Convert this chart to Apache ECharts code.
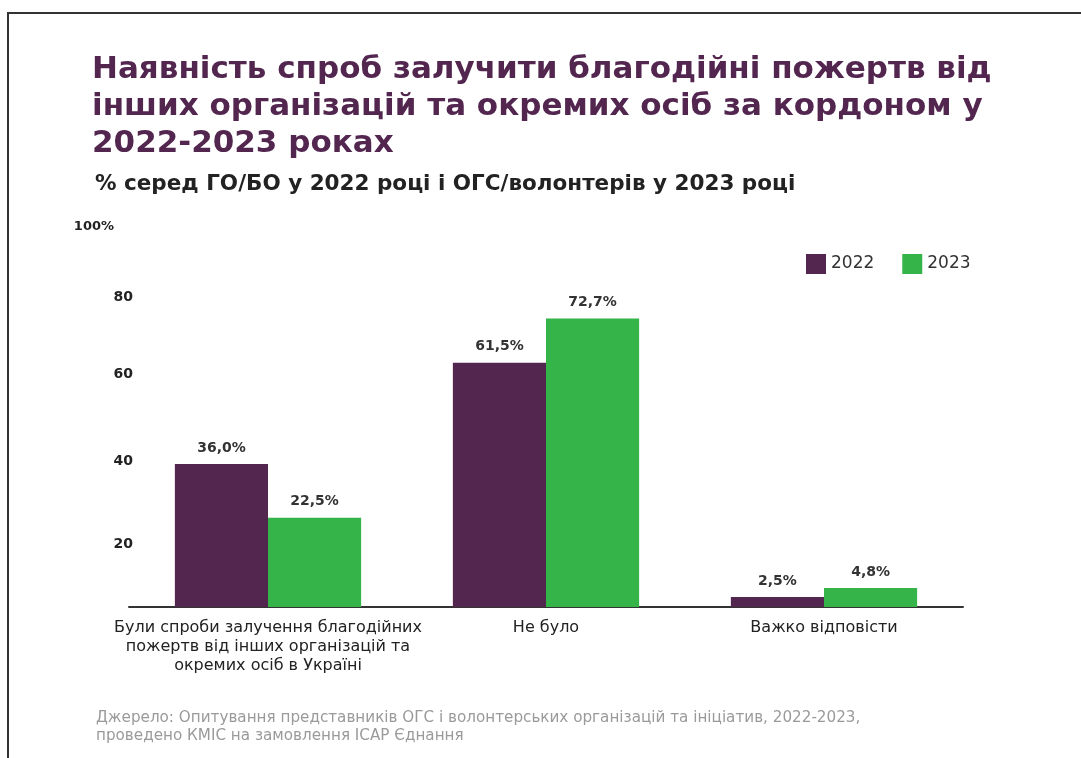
<!DOCTYPE html>
<html>
<head>
<meta charset="utf-8">
<script src="https://cdn.jsdelivr.net/npm/echarts@6/dist/echarts.min.js"></script>
<style>
  html, body { margin: 0; padding: 0; background: #fff; }
  #chart { width: 1081px; height: 758px; }
  #frame { position: absolute; left: 7px; top: 12px; right: 0; bottom: 0;
           border-top: 2px solid #333; border-left: 2px solid #333; pointer-events: none; }
</style>
</head>
<body>
<div id="chart"></div>
<div id="frame"></div>
<script>
const categories = [
  'Були спроби залучення благодійних\nпожертв від інших організацій та\nокремих осіб в Україні',
  'Не було',
  'Важко відповісти'
];
const seriesNames = ['2022', '2023'];
const values2022 = [36.0, 61.5, 2.5];
const values2023 = [22.5, 72.7, 4.8];
const yTicks = [0, 20, 40, 60, 80, 100];

const FONT = 'DejaVu Sans';
const purple = '#52264f';
const green = '#35b44a';

const chart = echarts.init(document.getElementById('chart'), null, { renderer: 'canvas' });

function fmtPct(v) { return v.toFixed(1).replace('.', ',') + '%'; }

chart.setOption({
  backgroundColor: '#fff',
  textStyle: { fontFamily: FONT },
  title: [
    {
      text: 'Наявність спроб залучити благодійні пожертв від\nінших організацій та окремих осіб за кордоном у\n2022-2023 роках',
      left: 87, top: 46,
      textStyle: { fontFamily: FONT, fontSize: 31, fontWeight: 'bold', color: purple, lineHeight: 37 }
    },
    {
      text: '% серед ГО/БО у 2022 році і ОГС/волонтерів у 2023 році',
      left: 90, top: 168,
      textStyle: { fontFamily: FONT, fontSize: 21.5, fontWeight: 'bold', color: '#222' }
    },
    {
      text: 'Джерело: Опитування представників ОГС і волонтерських організацій та ініціатив, 2022-2023,\nпроведено КМІС на замовлення ІСАР Єднання',
      left: 91, top: 704,
      textStyle: { fontFamily: FONT, fontSize: 15.2, fontWeight: 'normal', color: '#9a9a9a', lineHeight: 18 }
    }
  ],
  legend: {
    data: seriesNames,
    left: 801, top: 249,
    itemWidth: 20, itemHeight: 20, itemGap: 28,
    icon: 'rect',
    textStyle: { fontFamily: FONT, fontSize: 17, color: '#333' }
  },
  grid: { left: 129, right: 118, top: 210, bottom: 151 },
  xAxis: {
    type: 'category',
    data: categories,
    axisLine: { show: true, lineStyle: { color: '#333', width: 2 } },
    axisTick: { show: false },
    axisLabel: { fontFamily: FONT, fontSize: 16, color: '#222', lineHeight: 19, margin: 11, interval: 0 }
  },
  yAxis: {
    type: 'value',
    min: 0, max: 100, interval: 20,
    axisLine: { show: false },
    axisTick: { show: false },
    splitLine: { show: false },
    axisLabel: {
      margin: -4,
      formatter: function (v) {
        if (v === 0) return '';
        if (v === 100) return '{h|100%}';
        return '{t' + v + '|' + v + '}';
      },
      rich: {
        h: { fontFamily: FONT, fontSize: 13, fontWeight: 'bold', color: '#222', padding: [34, 19, 0, 0] },
        t80: { fontFamily: FONT, fontSize: 14, fontWeight: 'bold', color: '#222', padding: [16, 0, 0, 0] },
        t60: { fontFamily: FONT, fontSize: 14, fontWeight: 'bold', color: '#222', padding: [12, 0, 0, 0] },
        t40: { fontFamily: FONT, fontSize: 14, fontWeight: 'bold', color: '#222', padding: [26, 0, 0, 0] },
        t20: { fontFamily: FONT, fontSize: 14, fontWeight: 'bold', color: '#222', padding: [34, 0, 0, 0] }
      }
    }
  },
  series: [
    {
      name: seriesNames[0], type: 'bar', data: values2022,
      barGap: '0%', barCategoryGap: '33%',
      itemStyle: { color: purple },
      label: { show: true, position: 'top', distance: 9, formatter: p => fmtPct(p.value),
               fontFamily: FONT, fontSize: 14, fontWeight: 'bold', color: '#333' }
    },
    {
      name: seriesNames[1], type: 'bar', data: values2023,
      barGap: '0%', barCategoryGap: '33%',
      itemStyle: { color: green },
      label: { show: true, position: 'top', distance: 9, formatter: p => fmtPct(p.value),
               fontFamily: FONT, fontSize: 14, fontWeight: 'bold', color: '#333' }
    }
  ]
});
</script>
</body>
</html>
